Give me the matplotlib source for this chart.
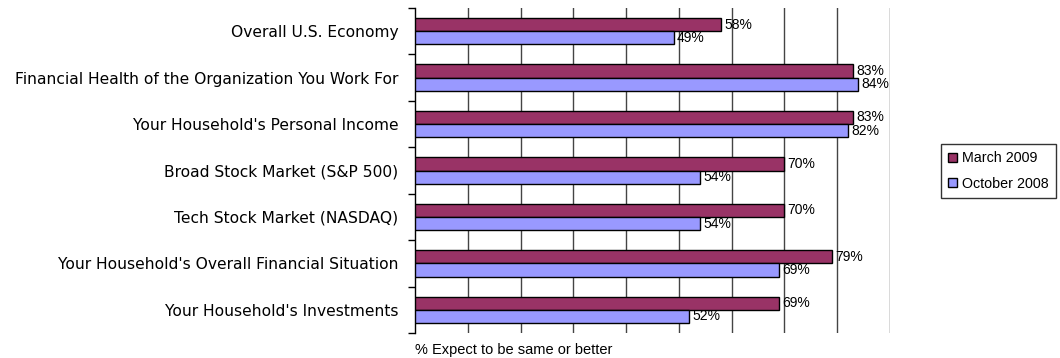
import matplotlib.pyplot as plt
import numpy as np

plt.rcParams['font.family'] = ['Liberation Sans', 'DejaVu Sans']

# survey items, top to bottom
categories = ['Overall U.S. Economy',
              'Financial Health of the Organization You Work For',
              "Your Household's Personal Income",
              'Broad Stock Market (S&P 500)',
              'Tech Stock Market (NASDAQ)',
              "Your Household's Overall Financial Situation",
              "Your Household's Investments"]
march_2009 = [58, 83, 83, 70, 70, 79, 69]
october_2008 = [49, 84, 82, 54, 54, 69, 52]

fig = plt.figure(figsize=(10.6, 3.58), dpi=100)
ax = fig.add_axes([415 / 1060, 25 / 358, 475 / 1060, 325 / 358])

y = np.arange(len(categories))
h = 0.285
bars_m = ax.barh(y - h / 2, march_2009, height=h, color='#993366',
                 edgecolor='black', linewidth=1, label='March 2009', zorder=3)
bars_o = ax.barh(y + h / 2, october_2008, height=h, color='#9999FF',
                 edgecolor='black', linewidth=1, label='October 2008', zorder=3)

for bars, vals in [(bars_m, march_2009), (bars_o, october_2008)]:
    for b, v in zip(bars, vals):
        ax.text(v + 0.6, b.get_y() + b.get_height() / 2, f'{v}%',
                va='center', ha='left', fontsize=10, zorder=4)

ax.set_xlim(0, 90)
ax.set_ylim(len(categories) - 0.5, -0.5)
ax.set_xticks(np.arange(10, 91, 10))
ax.tick_params(axis='x', length=0, labelbottom=False)
ax.xaxis.grid(True, color='#444444', linewidth=1, zorder=0)

ax.set_yticks(y)
ax.set_yticklabels(categories, fontsize=11.2, family='DejaVu Sans')
ax.tick_params(axis='y', which='major', length=0, pad=12)
ax.set_yticks(np.arange(-0.5, len(categories), 1), minor=True)
ax.tick_params(axis='y', which='minor', length=5, direction='out', width=1)

for s in ['top', 'right', 'bottom']:
    ax.spines[s].set_visible(False)
ax.spines['left'].set_linewidth(1)

ax.text(0, -0.03, '% Expect to be same or better', transform=ax.transAxes,
        ha='left', va='top', fontsize=10.5)

leg = fig.legend(loc='upper left', bbox_to_anchor=(941 / 1060, 1 - 144 / 358),
                 frameon=True, fancybox=False, edgecolor='black', fontsize=10.3,
                 handlelength=0.6, handleheight=0.6, handletextpad=0.4,
                 borderpad=0.5, borderaxespad=0, labelspacing=0.8)
leg.get_frame().set_linewidth(1)

fig.savefig('out.png', dpi=100)
